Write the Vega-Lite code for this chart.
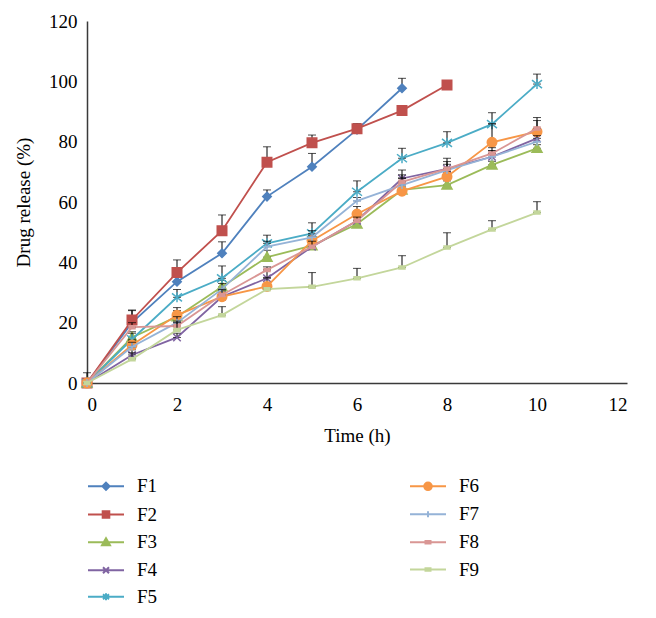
{
  "$schema": "https://vega.github.io/schema/vega-lite/v6.json",
  "width": 540,
  "height": 362,
  "autosize": {"type": "none"},
  "padding": {"left": 87, "top": 21, "right": 29, "bottom": 235},
  "background": "white",
  "config": {
    "view": {"stroke": null},
    "font": "Liberation Serif",
    "axis": {
      "grid": false,
      "ticks": false,
      "domainColor": "#3a3a3a",
      "domainWidth": 1.5,
      "labelFont": "Liberation Serif",
      "titleFont": "Liberation Serif",
      "labelFontSize": 19,
      "titleFontSize": 19,
      "labelColor": "black",
      "titleColor": "black",
      "titleFontWeight": "normal"
    },
    "legend": {
      "title": null,
      "orient": "none",
      "padding": 0,
      "labelFont": "Liberation Serif",
      "labelFontSize": 19,
      "labelColor": "black",
      "symbolSize": 400,
      "symbolStrokeWidth": 2,
      "symbolOpacity": 1,
      "labelOffset": 20
    },
    "errorbar": {"thickness": 1.8}
  },
  "data": {"values": [
      {"s": "F1", "t": 0, "v": 0, "hi": 3.4},
      {"s": "F1", "t": 1, "v": 20, "hi": 24},
      {"s": "F1", "t": 2, "v": 33.6, "hi": 35},
      {"s": "F1", "t": 3, "v": 43, "hi": 46.8},
      {"s": "F1", "t": 4, "v": 61.8, "hi": 64},
      {"s": "F1", "t": 5, "v": 71.7, "hi": 76.1},
      {"s": "F1", "t": 6, "v": 84, "hi": 85.5},
      {"s": "F1", "t": 7, "v": 97.7, "hi": 101},
      {"s": "F2", "t": 0, "v": 0, "hi": 0},
      {"s": "F2", "t": 1, "v": 20.9, "hi": 24.2},
      {"s": "F2", "t": 2, "v": 36.6, "hi": 40.8},
      {"s": "F2", "t": 3, "v": 50.5, "hi": 55.7},
      {"s": "F2", "t": 4, "v": 73.2, "hi": 78.3},
      {"s": "F2", "t": 5, "v": 79.6, "hi": 82.2},
      {"s": "F2", "t": 6, "v": 84.3, "hi": 86},
      {"s": "F2", "t": 7, "v": 90.3, "hi": 90.3},
      {"s": "F2", "t": 8, "v": 98.8, "hi": 98.8},
      {"s": "F3", "t": 0, "v": 0, "hi": 0},
      {"s": "F3", "t": 1, "v": 15.1, "hi": 17},
      {"s": "F3", "t": 2, "v": 22, "hi": 24},
      {"s": "F3", "t": 3, "v": 31.9, "hi": 34},
      {"s": "F3", "t": 4, "v": 41.7, "hi": 44},
      {"s": "F3", "t": 5, "v": 45.5, "hi": 47},
      {"s": "F3", "t": 6, "v": 52.7, "hi": 54},
      {"s": "F3", "t": 7, "v": 64, "hi": 66},
      {"s": "F3", "t": 8, "v": 65.6, "hi": 67},
      {"s": "F3", "t": 9, "v": 72.3, "hi": 73.5},
      {"s": "F3", "t": 10, "v": 77.8, "hi": 79},
      {"s": "F4", "t": 0, "v": 0, "hi": 0},
      {"s": "F4", "t": 1, "v": 9.3, "hi": 11},
      {"s": "F4", "t": 2, "v": 15.1, "hi": 16.5},
      {"s": "F4", "t": 3, "v": 28.6, "hi": 30},
      {"s": "F4", "t": 4, "v": 34.7, "hi": 37.5},
      {"s": "F4", "t": 5, "v": 45.2, "hi": 47},
      {"s": "F4", "t": 6, "v": 53.8, "hi": 55},
      {"s": "F4", "t": 7, "v": 67.8, "hi": 70.6},
      {"s": "F4", "t": 8, "v": 71, "hi": 74.5},
      {"s": "F4", "t": 9, "v": 75, "hi": 77},
      {"s": "F4", "t": 10, "v": 81.1, "hi": 83},
      {"s": "F5", "t": 0, "v": 0, "hi": 0},
      {"s": "F5", "t": 1, "v": 14.5, "hi": 16.5},
      {"s": "F5", "t": 2, "v": 28.4, "hi": 31},
      {"s": "F5", "t": 3, "v": 34.7, "hi": 38.8},
      {"s": "F5", "t": 4, "v": 46.3, "hi": 49},
      {"s": "F5", "t": 5, "v": 49.6, "hi": 53.1},
      {"s": "F5", "t": 6, "v": 63.4, "hi": 67},
      {"s": "F5", "t": 7, "v": 74.5, "hi": 77.8},
      {"s": "F5", "t": 8, "v": 79.6, "hi": 83.3},
      {"s": "F5", "t": 9, "v": 85.8, "hi": 89.6},
      {"s": "F5", "t": 10, "v": 99.1, "hi": 102.4},
      {"s": "F6", "t": 0, "v": 0, "hi": 0},
      {"s": "F6", "t": 1, "v": 12.6, "hi": 14},
      {"s": "F6", "t": 2, "v": 22.5, "hi": 25},
      {"s": "F6", "t": 3, "v": 28.6, "hi": 30.5},
      {"s": "F6", "t": 4, "v": 32, "hi": 35},
      {"s": "F6", "t": 5, "v": 47.2, "hi": 49},
      {"s": "F6", "t": 6, "v": 56, "hi": 58.5},
      {"s": "F6", "t": 7, "v": 63.6, "hi": 65},
      {"s": "F6", "t": 8, "v": 68.4, "hi": 70},
      {"s": "F6", "t": 9, "v": 79.8, "hi": 86},
      {"s": "F6", "t": 10, "v": 83.3, "hi": 88},
      {"s": "F7", "t": 0, "v": 0, "hi": 0},
      {"s": "F7", "t": 1, "v": 12, "hi": 13.5},
      {"s": "F7", "t": 2, "v": 20, "hi": 22},
      {"s": "F7", "t": 3, "v": 31.1, "hi": 33},
      {"s": "F7", "t": 4, "v": 45.2, "hi": 47},
      {"s": "F7", "t": 5, "v": 48.3, "hi": 50.5},
      {"s": "F7", "t": 6, "v": 60.4, "hi": 61.5},
      {"s": "F7", "t": 7, "v": 65.6, "hi": 68},
      {"s": "F7", "t": 8, "v": 70.6, "hi": 73.4},
      {"s": "F7", "t": 9, "v": 75, "hi": 77},
      {"s": "F7", "t": 10, "v": 80, "hi": 82},
      {"s": "F8", "t": 0, "v": 0, "hi": 0},
      {"s": "F8", "t": 1, "v": 18.5, "hi": 20},
      {"s": "F8", "t": 2, "v": 18.9, "hi": 20.5},
      {"s": "F8", "t": 3, "v": 29.2, "hi": 31},
      {"s": "F8", "t": 4, "v": 37.5, "hi": 38.5},
      {"s": "F8", "t": 5, "v": 45.2, "hi": 47},
      {"s": "F8", "t": 6, "v": 53.8, "hi": 55},
      {"s": "F8", "t": 7, "v": 66.7, "hi": 69},
      {"s": "F8", "t": 8, "v": 71, "hi": 72.5},
      {"s": "F8", "t": 9, "v": 76.1, "hi": 78},
      {"s": "F8", "t": 10, "v": 84.4, "hi": 87},
      {"s": "F9", "t": 0, "v": 0, "hi": 0},
      {"s": "F9", "t": 1, "v": 7.9, "hi": 10},
      {"s": "F9", "t": 2, "v": 17.6, "hi": 20},
      {"s": "F9", "t": 3, "v": 22.5, "hi": 25.3},
      {"s": "F9", "t": 4, "v": 31.1, "hi": 31.5},
      {"s": "F9", "t": 5, "v": 31.9, "hi": 36.6},
      {"s": "F9", "t": 6, "v": 34.7, "hi": 38},
      {"s": "F9", "t": 7, "v": 38.3, "hi": 42.2},
      {"s": "F9", "t": 8, "v": 44.9, "hi": 49.8},
      {"s": "F9", "t": 9, "v": 50.9, "hi": 53.8},
      {"s": "F9", "t": 10, "v": 56.5, "hi": 60.1}
  ]},
  "encoding": {
    "x": {
      "field": "t",
      "type": "quantitative",
      "scale": {"domain": [0, 12], "nice": false},
      "axis": {"values": [0, 2, 4, 6, 8, 10, 12], "title": "Time (h)", "labelPadding": 12, "titlePadding": 12}
    },
    "y": {
      "field": "v",
      "type": "quantitative",
      "scale": {"domain": [0, 120], "nice": false},
      "axis": {"values": [0, 20, 40, 60, 80, 100, 120], "title": "Drug release (%)", "labelPadding": 10, "titlePadding": 15}
    }
  },
  "layer": [
    {
      "transform": [{"filter": {"field": "s", "equal": "F1"}}],
      "layer": [
        {"mark": {"type": "line", "strokeWidth": 1.8},
         "encoding": {"color": {"field": "s", "type": "nominal", "scale": {"domain": ["F1"], "range": ["#4F81BD"]},
           "legend": {"legendX": 8, "legendY": 454.3, "symbolType": "M-1.8,0H1.8M0,-0.36L0.36,0L0,0.36L-0.36,0Z", "symbolFillColor": "#4F81BD", "symbolStrokeColor": "#4F81BD"}}}},
        {"mark": {"type": "errorbar", "color": "black", "ticks": {"size": 8}}, "encoding": {"y2": {"field": "hi"}}},
        {"mark": {"type": "point", "filled": true, "size": 100, "opacity": 1, "strokeWidth": 1.5, "fill": "#4F81BD", "stroke": "#4F81BD", "shape": "M0,-0.85L0.85,0L0,0.85L-0.85,0Z"}}
      ]
    },
    {
      "transform": [{"filter": {"field": "s", "equal": "F2"}}],
      "layer": [
        {"mark": {"type": "line", "strokeWidth": 1.8},
         "encoding": {"color": {"field": "s", "type": "nominal", "scale": {"domain": ["F2"], "range": ["#C0504D"]},
           "legend": {"legendX": 8, "legendY": 482.5, "symbolType": "M-1.8,0H1.8M-0.33,-0.33H0.33V0.33H-0.33Z", "symbolFillColor": "#C0504D", "symbolStrokeColor": "#C0504D"}}}},
        {"mark": {"type": "errorbar", "color": "black", "ticks": {"size": 8}}, "encoding": {"y2": {"field": "hi"}}},
        {"mark": {"type": "point", "filled": true, "size": 100, "opacity": 1, "strokeWidth": 1.5, "fill": "#C0504D", "stroke": "#C0504D", "shape": "M-0.95,-0.95H0.95V0.95H-0.95Z"}}
      ]
    },
    {
      "transform": [{"filter": {"field": "s", "equal": "F3"}}],
      "layer": [
        {"mark": {"type": "line", "strokeWidth": 1.8},
         "encoding": {"color": {"field": "s", "type": "nominal", "scale": {"domain": ["F3"], "range": ["#9BBB59"]},
           "legend": {"legendX": 8, "legendY": 510.2, "symbolType": "M-1.8,0H1.8M0,-0.4L0.4,0.3H-0.4Z", "symbolFillColor": "#9BBB59", "symbolStrokeColor": "#9BBB59"}}}},
        {"mark": {"type": "errorbar", "color": "black", "ticks": {"size": 8}}, "encoding": {"y2": {"field": "hi"}}},
        {"mark": {"type": "point", "filled": true, "size": 100, "opacity": 1, "strokeWidth": 1.5, "fill": "#9BBB59", "stroke": "#9BBB59", "shape": "M0,-1L1,0.8H-1Z"}}
      ]
    },
    {
      "transform": [{"filter": {"field": "s", "equal": "F4"}}],
      "layer": [
        {"mark": {"type": "line", "strokeWidth": 1.8},
         "encoding": {"color": {"field": "s", "type": "nominal", "scale": {"domain": ["F4"], "range": ["#8064A2"]},
           "legend": {"legendX": 8, "legendY": 538.2, "symbolType": "M-1.8,0H1.8M-0.3,-0.3L0.3,0.3M0.3,-0.3L-0.3,0.3", "symbolFillColor": "#8064A2", "symbolStrokeColor": "#8064A2"}}}},
        {"mark": {"type": "errorbar", "color": "black", "ticks": {"size": 8}}, "encoding": {"y2": {"field": "hi"}}},
        {"mark": {"type": "point", "filled": true, "size": 100, "opacity": 1, "strokeWidth": 1.5, "fill": "#8064A2", "stroke": "#8064A2", "shape": "M-0.75,-0.75L0.75,0.75M0.75,-0.75L-0.75,0.75"}}
      ]
    },
    {
      "transform": [{"filter": {"field": "s", "equal": "F5"}}],
      "layer": [
        {"mark": {"type": "line", "strokeWidth": 1.8},
         "encoding": {"color": {"field": "s", "type": "nominal", "scale": {"domain": ["F5"], "range": ["#4BACC6"]},
           "legend": {"legendX": 8, "legendY": 564.8, "symbolType": "M-1.8,0H1.8M-0.3,-0.25L0.3,0.25M0.3,-0.25L-0.3,0.25M0,-0.35V0.35", "symbolFillColor": "#4BACC6", "symbolStrokeColor": "#4BACC6"}}}},
        {"mark": {"type": "errorbar", "color": "black", "ticks": {"size": 8}}, "encoding": {"y2": {"field": "hi"}}},
        {"mark": {"type": "point", "filled": true, "size": 100, "opacity": 1, "strokeWidth": 1.5, "fill": "#4BACC6", "stroke": "#4BACC6", "shape": "M-1,-0.8L1,0.8M1,-0.8L-1,0.8M0,-1V1"}}
      ]
    },
    {
      "transform": [{"filter": {"field": "s", "equal": "F6"}}],
      "layer": [
        {"mark": {"type": "line", "strokeWidth": 1.8},
         "encoding": {"color": {"field": "s", "type": "nominal", "scale": {"domain": ["F6"], "range": ["#F79646"]},
           "legend": {"legendX": 330, "legendY": 454.3, "symbolType": "M-1.8,0H1.8M0.38,0A0.38,0.38,0,1,1,-0.38,0A0.38,0.38,0,1,1,0.38,0Z", "symbolFillColor": "#F79646", "symbolStrokeColor": "#F79646"}}}},
        {"mark": {"type": "errorbar", "color": "black", "ticks": {"size": 8}}, "encoding": {"y2": {"field": "hi"}}},
        {"mark": {"type": "point", "filled": true, "size": 100, "opacity": 1, "strokeWidth": 1.5, "fill": "#F79646", "stroke": "#F79646", "shape": "M0.95,0A0.95,0.95,0,1,1,-0.95,0A0.95,0.95,0,1,1,0.95,0Z"}}
      ]
    },
    {
      "transform": [{"filter": {"field": "s", "equal": "F7"}}],
      "layer": [
        {"mark": {"type": "line", "strokeWidth": 1.8},
         "encoding": {"color": {"field": "s", "type": "nominal", "scale": {"domain": ["F7"], "range": ["#95B3D7"]},
           "legend": {"legendX": 330, "legendY": 482.3, "symbolType": "M-1.8,0H1.8M0,-0.3V0.3", "symbolFillColor": "#95B3D7", "symbolStrokeColor": "#95B3D7"}}}},
        {"mark": {"type": "errorbar", "color": "black", "ticks": {"size": 8}}, "encoding": {"y2": {"field": "hi"}}},
        {"mark": {"type": "point", "filled": true, "size": 100, "opacity": 1, "strokeWidth": 1.5, "fill": "#95B3D7", "stroke": "#95B3D7", "shape": "M-0.8,0H0.8M0,-0.8V0.8"}}
      ]
    },
    {
      "transform": [{"filter": {"field": "s", "equal": "F8"}}],
      "layer": [
        {"mark": {"type": "line", "strokeWidth": 1.8},
         "encoding": {"color": {"field": "s", "type": "nominal", "scale": {"domain": ["F8"], "range": ["#D99694"]},
           "legend": {"legendX": 330, "legendY": 510.2, "symbolType": "M-1.8,0H1.8M-0.25,-0.12H0.25V0.12H-0.25Z", "symbolFillColor": "#D99694", "symbolStrokeColor": "#D99694"}}}},
        {"mark": {"type": "errorbar", "color": "black", "ticks": {"size": 8}}, "encoding": {"y2": {"field": "hi"}}},
        {"mark": {"type": "point", "filled": true, "size": 100, "opacity": 1, "strokeWidth": 1.5, "fill": "#D99694", "stroke": "#D99694", "shape": "M-0.6,-0.3H0.6V0.3H-0.6Z"}}
      ]
    },
    {
      "transform": [{"filter": {"field": "s", "equal": "F9"}}],
      "layer": [
        {"mark": {"type": "line", "strokeWidth": 1.8},
         "encoding": {"color": {"field": "s", "type": "nominal", "scale": {"domain": ["F9"], "range": ["#C3D69B"]},
           "legend": {"legendX": 330, "legendY": 537.5, "symbolType": "M-1.8,0H1.8M-0.25,-0.12H0.25V0.12H-0.25Z", "symbolFillColor": "#C3D69B", "symbolStrokeColor": "#C3D69B"}}}},
        {"mark": {"type": "errorbar", "color": "black", "ticks": {"size": 8}}, "encoding": {"y2": {"field": "hi"}}},
        {"mark": {"type": "point", "filled": true, "size": 100, "opacity": 1, "strokeWidth": 1.5, "fill": "#C3D69B", "stroke": "#C3D69B", "shape": "M-0.6,-0.3H0.6V0.3H-0.6Z"}}
      ]
    }
  ],
  "resolve": {"scale": {"color": "independent"}}
}
